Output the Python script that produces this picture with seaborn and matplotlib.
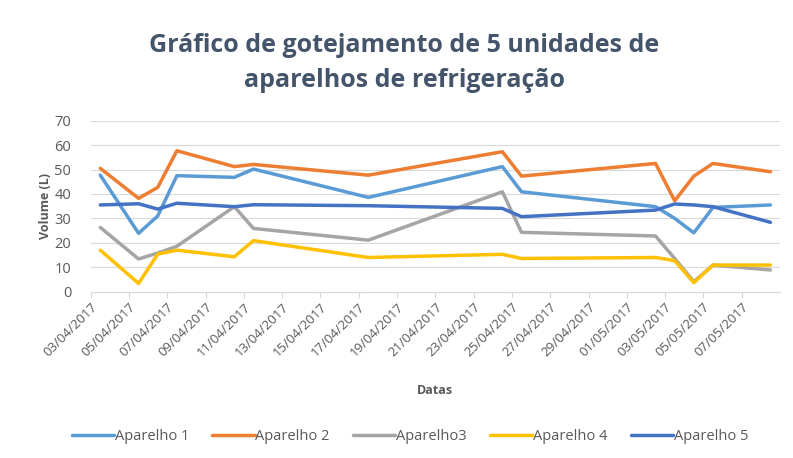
import pandas as pd
import numpy as np
import matplotlib.pyplot as plt
import matplotlib.dates as mdates
import seaborn as sns

datas = ["03/04/2017", "05/04/2017", "06/04/2017", "07/04/2017", "10/04/2017",
         "11/04/2017", "17/04/2017", "24/04/2017", "25/04/2017", "02/05/2017",
         "03/05/2017", "04/05/2017", "05/05/2017", "08/05/2017"]
aparelho_1 = [47.7, 23.9, 31.0, 47.5, 46.8, 50.2, 38.6, 51.2, 40.9, 34.8, 30.0, 24.1, 34.5, 35.5]
aparelho_2 = [50.5, 38.2, 42.7, 57.7, 51.2, 52.1, 47.7, 57.3, 47.3, 52.5, 37.2, 47.3, 52.5, 49.1]
aparelho_3 = [26.3, 13.4, 15.8, 18.6, 34.8, 25.9, 21.1, 40.9, 24.3, 22.8, 13.6, 4.1, 10.9, 8.9]
aparelho_4 = [17.0, 3.4, 15.4, 17.0, 14.3, 20.9, 14.0, 15.3, 13.6, 14.0, 12.7, 3.7, 10.9, 10.9]
aparelho_5 = [35.5, 36.0, 33.8, 36.2, 34.8, 35.6, 35.2, 34.1, 30.7, 33.4, 35.9, 35.5, 34.8, 28.4]

nomes = ["Aparelho 1", "Aparelho 2", "Aparelho3", "Aparelho 4", "Aparelho 5"]
cores = ["#5B9BD5", "#ED7D31", "#A5A5A5", "#FFC000", "#4472C4"]

dias = pd.to_datetime(datas, format="%d/%m/%Y")
df = pd.concat([
    pd.DataFrame({"Data": dias, "Volume": v, "Aparelho": n})
    for n, v in zip(nomes, [aparelho_1, aparelho_2, aparelho_3, aparelho_4, aparelho_5])
])

sns.set_style("white")
plt.rcParams['font.family'] = ['Open Sans', 'DejaVu Sans']

fig = plt.figure(figsize=(7.93, 4.58), dpi=100)
ax = fig.add_axes([0.1144, 0.3631, 0.8692, 0.3734])

sns.lineplot(data=df, x="Data", y="Volume", hue="Aparelho", palette=cores,
             linewidth=2.5, ax=ax, legend=True)

# excel date axis: ticks on day boundaries, points in the middle of the day
meio = pd.Timedelta(hours=12)
ticks = pd.date_range("2017-04-03", "2017-05-07", freq="2D")
ax.set_xticks(ticks - meio)
ax.set_xticklabels([t.strftime("%d/%m/%Y") for t in ticks], rotation=45,
                   ha="right", rotation_mode="anchor", fontsize=9.5, color="#595959")
ax.set_xlim(pd.Timestamp("2017-04-03") - meio, pd.Timestamp("2017-05-08") + meio)
ax.set_ylim(0, 70)
ax.set_yticks(range(0, 71, 10))
ax.tick_params(axis="y", labelsize=10.5, colors="#595959", length=0, pad=14)
ax.tick_params(axis="x", length=4, color="#D9D9D9", direction="out", bottom=True, pad=2)
ax.grid(axis="y", color="#D9D9D9", linewidth=0.8)
ax.set_axisbelow(True)
for s in ["left", "right", "top"]:
    ax.spines[s].set_visible(False)
ax.spines["bottom"].set_color("#D9D9D9")

ax.set_xlabel("")
ax.set_ylabel("")
fig.text(0.548, 0.148, "Datas", ha="center", va="center", fontsize=9,
         fontweight="bold", color="#595959")
fig.text(0.057, 0.55, "Volume (L)", ha="center", va="center", rotation=90,
         fontsize=9, fontweight="bold", color="#595959")

fig.text(0.51, 0.863, "Gráfico de gotejamento de 5 unidades de\naparelhos de refrigeração",
         ha="center", va="center", fontsize=18, fontweight="bold",
         color="#44546A", linespacing=1.55)

h, l = ax.get_legend_handles_labels()
ax.legend(h, l, loc="center", bbox_to_anchor=(0.517, 0.046), bbox_transform=fig.transFigure,
          ncol=5, frameon=False, fontsize=10.5, handlelength=2.9, handletextpad=0.05,
          columnspacing=1.6, labelcolor="#595959")

plt.savefig("out.png", dpi=100)
